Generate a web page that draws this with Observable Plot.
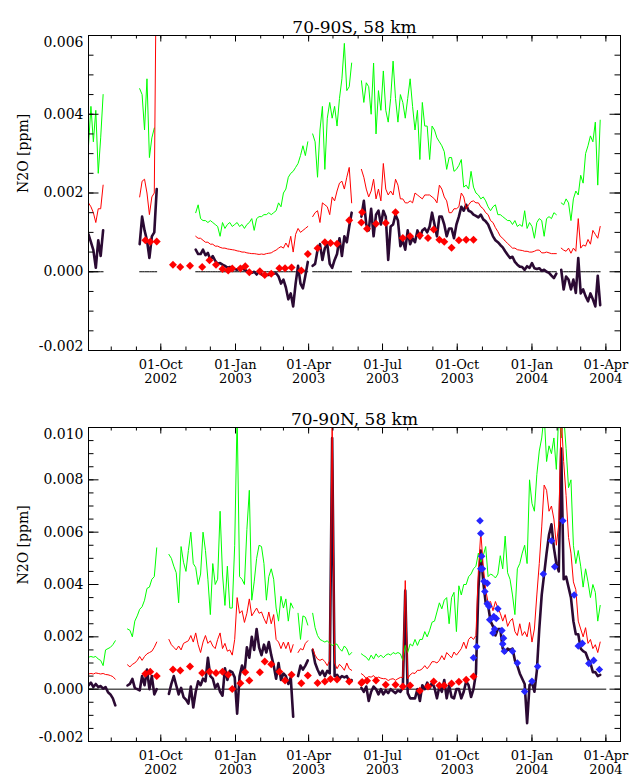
<!DOCTYPE html>
<html><head><meta charset="utf-8">
<script src="https://cdn.jsdelivr.net/npm/d3@7"></script>
<script src="https://cdn.jsdelivr.net/npm/@observablehq/plot@0.6"></script>
<style>
body{margin:0;background:#fff;}
#chart svg{display:block;}
</style></head><body><div id="chart"></div>
<script>
// ---- axis data ----
const X_DOMAIN = ["2002-07-04", "2004-04-19"];
const xTickDates = ["2002-10-01","2003-01-01","2003-04-01","2003-07-01","2003-10-01","2004-01-01","2004-04-01"];
const xTickLabels = ["01-Oct\n2002","01-Jan\n2003","01-Apr\n2003","01-Jul\n2003","01-Oct\n2003","01-Jan\n2004","01-Apr\n2004"];
const yTicksTop = [-0.002, 0, 0.002, 0.004, 0.006];
const yLabelsTop = ["-0.002","0.000","0.002","0.004","0.006"];
const yTicksBot = [-0.002, 0, 0.002, 0.004, 0.006, 0.008, 0.010];
const yLabelsBot = ["-0.002","0.000","0.002","0.004","0.006","0.008","0.010"];

// ---- daily series sampled every 3 days, values in ppb (1e-3 ppm); one sub-array per data segment ----
const STEP_DAYS = 3;
const topStarts = ["2002-07-04","2002-09-05","2002-11-13","2003-04-06","2003-06-05","2004-02-06"];
const topGreen = [
 [3.2,4.2,3.3,4.1,2.5,3.4,4.5],
 [4.65,4.5,3.6,4.9,2.9,3.4,3.65,null],
 [1.5,1.7,1.35,1.3,1.3,1.25,1.3,1.25,1.2,1.15,0.9,1.25,1.1,1.2,1.25,1.15,1.2,1.25,1.15,1.2,1.1,1.2,1.25,1.35,1.05,1.35,1.4,1.4,1.45,1.45,1.5,1.45,1.5,1.55,1.75,1.65,2.0,2.1,2.4,2.5,2.55,2.65,2.75,2.95,3.2,2.95,3.3],
 [3.5,3.3,2.4,3.6,4.2,2.6,3.9,4.3,3.9,4.2,3.7,4.4,4.9,5.8,4.6,4.7,5.3],
 [4.85,4.3,4.8,4.7,4.0,5.3,3.5,4.6,4.1,5.1,4.1,3.8,4.4,5.35,4.4,3.8,4.5,4.3,3.9,4.4,4.9,4.2,3.6,4.1,2.85,4.3,3.7,3.7,2.85,3.7,3.6,3.4,3.3,3.2,3.05,2.6,2.9,
  2.9,2.55,2.6,2.7,2.85,2.15,2.2,2.1,2.55,2.15,2.0,1.95,1.85,1.9,1.8,1.65,1.55,1.65,1.7,1.45,1.45,1.4,1.35,1.3,1.3,1.2,1.3,1.15,1.2,1.15,1.55,1.1,1.25,1.15,0.85,1.25,1.35,1.3,0.9,1.35,1.4,1.35,1.5,1.45],
 [1.75,1.7,1.85,1.75,1.3,1.85,2.05,1.95,2.45,2.25,3.0,3.2,3.45,3.3,3.8,2.2,3.85]
];
const topRed = [
 [1.75,1.65,1.5,1.25,1.6,1.6,2.2],
 [1.9,2.3,2.35,2.0,1.45,1.9,2.0,9.0],
 [0.9,0.85,0.85,0.8,0.75,0.75,0.7,0.7,0.65,0.65,0.62,0.6,0.6,0.58,0.57,0.56,0.55,0.53,0.52,0.5,0.5,0.48,0.47,0.46,0.46,0.45,0.44,0.45,0.44,0.46,0.47,
  0.48,0.52,0.55,0.6,0.64,0.6,0.73,0.62,0.9,0.5,0.95,1.1,1.0,1.05,1.1,1.15],
 [1.4,1.5,1.55,1.25,1.75,1.7,1.65,1.45,1.9,1.8,2.05,2.25,2.3,2.1,2.4,2.65,1.75],
 [2.6,2.4,2.1,1.9,2.05,2.35,1.85,2.1,1.8,2.75,2.1,1.95,2.05,1.95,2.35,2.2,1.85,1.85,1.75,1.75,1.8,1.75,2.0,1.95,1.9,1.85,1.95,1.95,1.95,1.9,1.85,1.75,2.2,2.1,1.9,1.8,1.5,
  1.5,1.6,1.6,1.65,2.0,1.9,1.6,1.7,1.78,1.8,1.75,1.75,1.65,1.6,1.5,1.45,1.3,1.25,1.12,1.02,0.9,0.85,0.78,0.72,0.66,0.6,0.6,0.56,0.55,0.54,0.52,0.52,0.5,0.5,0.52,0.55,0.55,0.48,0.48,0.5,0.48,0.46,0.46,0.46],
 [0.6,0.55,0.52,0.6,0.47,0.6,0.52,1.35,0.6,0.68,0.65,0.82,0.7,1.05,0.95,0.85,1.15]
];
const topDark = [
 [0.95,0.75,0.55,0.1,0.8,0.4,1.05],
 [0.7,1.4,1.05,0.8,0.35,0.9,1.0,2.1],
 [0.56,0.45,0.45,0.56,0.42,0.48,0.3,0.4,0.28,0.2,0.22,0.18,0.15,0.1,0.12,0.1,0.07,0.05,0.1,0.12,0.05,0.02,0.0,-0.03,0.0,-0.07,0.0,-0.07,-0.1,
  -0.08,-0.08,-0.06,-0.05,-0.04,-0.12,-0.3,-0.2,-0.4,-0.7,-0.55,-0.88,-0.3,0.15,-0.3,-0.42,-0.1,0.25],
 [0.15,0.2,0.55,0.7,0.3,0.6,0.7,0.2,0.1,0.3,0.45,0.85,0.4,0.9,0.75,1.15,1.5],
 [1.4,1.8,1.2,1.05,1.6,0.9,1.45,1.55,1.2,1.55,1.4,0.3,1.15,1.2,1.45,1.3,0.65,0.8,0.56,1.05,0.7,0.85,0.75,1.05,0.85,1.05,1.1,1.0,1.15,1.5,1.2,0.9,1.4,1.4,1.2,0.9,1.1,
  1.1,0.85,1.2,1.4,1.65,1.55,1.7,1.55,1.52,1.45,1.42,1.38,1.45,1.33,1.28,1.2,1.05,0.9,0.8,0.75,0.68,0.62,0.52,0.43,0.35,0.38,0.25,0.18,0.13,0.12,0.05,0.14,0.1,0.22,0.09,0.07,0.09,0.02,0.05,0.0,-0.03,-0.1,-0.16,-0.05],
 [0.05,-0.45,-0.12,-0.2,-0.45,-0.2,-0.54,0.35,-0.55,-0.45,-0.62,-0.75,-0.55,-0.7,-0.88,-0.1,-0.85]
];

const botStarts = ["2002-07-04","2002-08-21","2002-10-11","2003-03-19","2003-04-06","2003-06-05"];
const botGreen = [
 [1.22,1.25,1.22,1.25,1.15,1.1,0.9,1.5,1.55,1.6,1.7,1.85],
 [2.3,2.25,2.0,2.6,2.8,3.05,3.15,3.4,3.85,3.9,4.2,4.3,5.4],
 [5.15,5.0,4.7,4.45,3.3,5.45,4.85,4.5,5.3,6.0,4.8,4.65,4.0,4.4,6.0,5.3,4.2,2.85,4.8,4.0,4.2,6.8,4.4,3.2,4.7,3.1,3.1,5.5,10.5,4.3,4.2,4.0,6.1,7.6,3.4,4.1,5.0,5.5,5.45,4.8,3.4,4.3,
  4.6,4.2,3.1,2.6,3.55,3.1,3.45,2.6,3.3,3.1],
 [2.9,1.9,2.8,2.75,2.45],
 [2.9,2.35,2.05,1.9,1.85,1.8,1.85,1.75,1.67,1.72,1.72,1.55,1.45,1.65,1.54,1.3,1.4],
 [1.35,1.28,1.22,1.1,1.3,1.15,1.35,1.22,1.3,1.2,1.3,1.35,1.3,1.4,1.35,1.4,1.35,1.1,1.67,1.4,1.73,1.65,1.9,1.67,1.9,1.9,2.2,2.0,2.25,2.56,2.6,2.95,3.3,3.07,3.4,3.5,2.5,
  3.5,3.7,2.2,3.95,3.6,4.0,4.0,4.3,4.4,4.6,4.7,5.2,4.85,5.1,5.45,4.3,4.4,4.35,4.25,4.4,5.1,4.6,5.85,4.45,4.2,3.6,2.85,4.6,4.8,5.2,
  5.5,4.8,8.0,7.1,6.8,8.2,9.1,9.6,10.5,8.7,9.3,9.0,9.6,8.4,10.5,9.6,10.5,9.2,7.7,8.0,5.5,4.8,5.3,4.7,3.9,4.6,4.1,3.5,4.0,3.7,2.6,3.2]
];
const botRed = [
 [0.58,0.6,0.58,0.62,0.6,0.58,0.6,0.56,0.55,0.52,0.48,0.38],
 [0.93,0.85,0.95,1.0,1.1,1.25,1.1,1.25,1.35,1.4,1.45,1.6,1.8],
 [1.9,1.7,1.6,1.5,1.65,1.5,1.75,1.8,1.85,2.05,1.8,2.15,1.7,1.4,1.8,2.05,1.75,1.85,1.65,1.55,1.9,2.15,1.55,1.75,1.45,1.5,1.3,1.9,3.5,2.9,3.0,2.55,2.9,3.45,2.8,2.95,3.1,2.9,2.95,2.7,2.5,2.95,
  2.5,2.85,1.9,1.8,1.55,1.8,1.55,1.8,1.4,1.7],
 [1.4,1.55,1.5,1.75,1.85],
 [1.55,1.3,1.15,1.1,1.15,1.05,0.9,1.1,10.5,1.0,0.78,0.95,0.85,0.72,1.0,0.78,0.72],
 [0.59,0.52,0.4,0.48,0.46,0.52,0.4,0.46,0.42,0.4,0.4,0.33,0.38,0.4,0.34,0.4,0.45,0.45,4.15,0.4,0.55,0.62,0.6,0.72,0.72,0.78,0.9,0.78,0.9,1.05,1.05,1.0,1.1,1.28,1.12,1.4,1.3,
  1.2,1.42,1.3,1.42,1.55,1.8,1.55,1.9,2.0,1.9,2.05,4.5,6.0,4.7,3.8,3.3,3.35,3.0,3.35,3.1,2.9,2.6,2.85,2.4,2.6,2.7,2.2,2.05,2.5,2.05,
  2.2,2.0,2.55,1.8,2.3,3.6,4.8,6.2,7.8,7.6,6.8,7.0,6.5,5.5,6.3,10.5,8.7,7.4,5.8,5.2,4.1,3.8,2.6,2.3,2.0,2.35,1.75,1.9,1.55,1.7,1.4,1.8]
];
const botDark = [
 [0.15,0.25,0.08,0.2,0.08,0.12,0.02,0.08,-0.12,-0.2,-0.35,-0.62],
 [0.14,0.2,0.39,0.05,0.0,-0.05,0.5,0.15,0.75,0.0,0.5,-0.2,0.0],
 [-0.18,0.2,0.5,0.15,-0.2,0.05,-0.3,-0.4,-0.55,0.1,-0.7,-0.1,0.3,0.15,0.4,0.3,1.2,0.5,0.4,0.05,0.2,-0.1,-0.25,0.8,0.35,0.7,0.65,0.45,-0.94,0.5,0.9,0.6,1.6,1.2,2.0,1.5,2.3,1.6,1.3,1.7,1.4,1.8,
  1.3,0.9,0.4,1.0,0.35,0.6,0.5,0.2,0.45,-1.05],
 [0.5,0.9,0.75,0.9,1.1],
 [1.5,1.0,0.75,0.55,0.7,0.5,0.7,0.6,9.6,0.5,0.55,0.4,0.5,0.45,0.5,0.3,0.35],
 [0.05,-0.1,0.1,-0.45,-0.1,0.1,0.0,-0.2,0.0,-0.2,-0.05,-0.15,0.0,-0.08,-0.15,-0.05,-0.1,0.05,3.77,-0.15,-0.35,-0.35,-0.35,0.0,-0.45,0.15,0.0,0.25,0.05,0.25,0.05,-0.35,0.1,-0.1,0.35,-0.35,0.15,
  -0.3,-0.35,0.0,0.0,-0.35,-0.1,0.3,0.15,-0.3,0.0,0.6,3.8,5.3,4.1,3.3,3.2,2.6,2.4,2.05,2.3,2.3,1.55,1.4,1.55,1.5,1.55,1.1,0.9,0.6,0.4,
  0.2,-1.3,0.15,0.25,-0.1,0.7,2.3,3.6,4.4,5.2,5.9,6.3,5.4,4.8,4.5,9.2,4.2,4.3,3.9,3.5,2.6,2.1,2.1,1.55,1.45,1.4,1.15,1.0,0.65,0.65,0.5,0.55]
];

// ---- diamond markers (ppb) ----
const redDiamondDates = ["2002-09-12","2002-09-18","2002-09-26","2002-10-16","2002-10-25","2002-11-06","2002-11-21","2002-11-30","2002-12-08","2002-12-16","2002-12-23","2002-12-28","2003-01-07","2003-01-13","2003-01-18","2003-01-31","2003-02-06","2003-02-14","2003-02-24","2003-03-03","2003-03-11","2003-03-23","2003-03-31","2003-04-12","2003-04-21","2003-04-28","2003-05-06","2003-05-21","2003-06-05","2003-06-06","2003-06-12","2003-06-23","2003-07-05","2003-07-17","2003-07-26","2003-08-04","2003-08-16","2003-08-26","2003-09-02","2003-09-09","2003-09-15","2003-09-24","2003-10-03","2003-10-12","2003-10-21"];
const topRedDiamonds = [0.8,0.76,0.77,0.18,0.12,0.15,0.12,0.29,0.18,0.07,0.03,0.08,0.08,0.14,-0.01,0.01,-0.08,-0.05,0.09,0.09,0.11,0.03,0.45,0.6,0.75,0.73,0.71,1.31,1.25,1.51,1.09,1.22,1.24,1.51,0.86,0.9,0.92,0.86,1.07,0.81,0.76,0.61,0.8,0.81,0.81];
const botRedDiamonds = [0.59,0.67,0.5,0.75,0.71,0.87,0.62,0.67,0.62,0.67,0.55,0.01,0.23,0.65,0.33,0.65,1.06,0.95,0.67,0.33,0.55,0.23,0.52,0.24,0.29,0.39,0.37,0.29,0.24,0.27,0.32,0.33,0.17,0.17,0.1,0.14,-0.06,0.1,0.29,0.14,0.14,0.22,0.28,0.36,0.48];
const blueDiamondDates = ["2003-10-21","2003-10-25","2003-10-29","2003-10-30","2003-10-31","2003-10-30","2003-11-01","2003-11-03","2003-11-04","2003-11-07","2003-11-07","2003-11-09","2003-11-10","2003-11-14","2003-11-15","2003-11-16","2003-11-18","2003-11-20","2003-11-25","2003-11-26","2003-11-27","2003-11-28","2003-12-08","2003-12-14","2003-12-23","2004-01-01","2004-01-08","2004-01-15","2004-01-25","2004-01-29","2004-02-08","2004-02-22","2004-02-27","2004-03-03","2004-03-11","2004-03-17","2004-03-24"];
const blueDiamonds = [1.2,1.62,6.44,5.95,5.08,4.6,4.6,4.12,3.73,4.05,3.26,3.17,2.65,2.15,2.78,2.3,2.7,3.07,2.24,1.73,1.95,1.45,1.45,1.0,-0.09,0.3,0.87,4.4,5.67,4.68,6.44,3.6,1.65,1.75,0.98,1.1,0.75];

// ---- helpers ----
const PPB = 1e-3;
const asDate = s => new Date(s + "T00:00:00Z");
function expand(starts, segs) {
  const out = [];
  segs.forEach((vals, k) => {
    const s = asDate(starts[k]);
    vals.forEach((v, j) => out.push({date: d3.utcDay.offset(s, STEP_DAYS * j), v: v == null ? NaN : v * PPB, seg: k}));
  });
  return out;
}
const points = (dates, vals) => dates.map((d, i) => ({date: asDate(d), v: vals[i] * PPB}));

const W = 633, ML = 88, MR = 13;
const FONT = "DejaVu Serif";
const GREEN = "#00ff00", RED = "#ff0000", DARK = "#2b0a33", BLUE = "#2626ff";

function panel(o) {
  const fh = o.height - o.marginTop - o.marginBottom;
  const fw = W - ML - MR;
  const xd = X_DOMAIN.map(asDate);
  const g = expand(o.starts, o.green), r = expand(o.starts, o.red), k = expand(o.starts, o.dark);
  const months = d3.utcMonth.range(d3.utcMonth.ceil(xd[0]), xd[1]);
  const majors = xTickDates.map(asDate);
  const yMinor = d3.range(Math.round((o.yTicks[o.yTicks.length-1] - o.yTicks[0]) / 0.0005) + 1).map(i => o.yTicks[0] + i * 0.0005);
  const n = o.yTicks.length;
  const zeroMark = o.zeroFollowsData
    ? Plot.line(k, {x: "date", y: d => isNaN(d.v) ? NaN : 0, z: "seg", stroke: "#000", strokeWidth: 1})
    : Plot.line([{date: xd[0], v: 0}, {date: majors[majors.length-1], v: 0}], {x: "date", y: "v", stroke: "#000", strokeWidth: 1});
  const marks = [
    zeroMark,
    Plot.line(k, {x: "date", y: "v", z: "seg", stroke: DARK, strokeWidth: 2.6, strokeLinejoin: "round", clip: true}),
    Plot.line(g, {x: "date", y: "v", z: "seg", stroke: GREEN, strokeWidth: 1, clip: true}),
    Plot.line(r, {x: "date", y: "v", z: "seg", stroke: RED, strokeWidth: 1, clip: true}),
    Plot.dot(points(redDiamondDates, o.redD), {x: "date", y: "v", symbol: "diamond2", r: 3.6, fill: RED, stroke: "none"})
  ];
  if (o.blue) marks.push(Plot.dot(points(blueDiamondDates, o.blue), {x: "date", y: "v", symbol: "diamond2", r: 3.4, fill: BLUE, stroke: "none"}));
  marks.push(
    Plot.frame({stroke: "#000", strokeWidth: 1}),
    Plot.tickX(months, {x: d => d, insetTop: fh - 3.5, stroke: "#000"}),
    Plot.tickX(months, {x: d => d, insetBottom: fh - 3.5, stroke: "#000"}),
    Plot.tickX(majors, {x: d => d, insetTop: fh - 6.5, stroke: "#000"}),
    Plot.tickX(majors, {x: d => d, insetBottom: fh - 6.5, stroke: "#000"}),
    Plot.tickY(yMinor, {y: d => d, insetRight: fw - 5.5, stroke: "#000"}),
    Plot.tickY(yMinor, {y: d => d, insetLeft: fw - 5.5, stroke: "#000"}),
    Plot.tickY(o.yTicks, {y: d => d, insetRight: fw - 10.5, stroke: "#000"}),
    Plot.tickY(o.yTicks, {y: d => d, insetLeft: fw - 10.5, stroke: "#000"}),
    Plot.text(majors, {x: d => d, frameAnchor: "bottom", lineAnchor: "top", dy: 8, lineHeight: 1.1, fontSize: 13, text: (d, i) => xTickLabels[i], fill: "#000"}),
    Plot.text(o.yTicks.slice(1, n - 1), {y: d => d, frameAnchor: "left", dx: -5, textAnchor: "end", text: (d, i) => o.yLabels[i + 1], fill: "#000"}),
    Plot.text([o.yTicks[n - 1]], {y: d => d, frameAnchor: "left", dx: -5, dy: 2, textAnchor: "end", lineAnchor: "top", text: () => o.yLabels[n - 1], fill: "#000"}),
    Plot.text([o.yTicks[0]], {y: d => d, frameAnchor: "left", dx: -5, textAnchor: "end", lineAnchor: "bottom", text: () => o.yLabels[0], fill: "#000"}),
    Plot.text(["N2O [ppm]"], {frameAnchor: "left", dx: -65, rotate: -90, text: d => d, fill: "#000"}),
    Plot.text([o.title], {frameAnchor: "top", dy: o.titleDy, text: d => d, fontSize: 17, fill: "#000"})
  );
  return Plot.plot({
    width: W, height: o.height,
    marginLeft: ML, marginRight: MR, marginTop: o.marginTop, marginBottom: o.marginBottom,
    x: {type: "utc", domain: xd, axis: null},
    y: {domain: [o.yTicks[0], o.yTicks[n - 1]], axis: null},
    style: {fontFamily: FONT, fontSize: "14px", background: "#fff", color: "#000", overflow: "visible"},
    marks
  });
}

const chart = document.getElementById("chart");
chart.append(panel({
  title: "70-90S, 58 km", titleDy: -15, height: 390, marginTop: 35, marginBottom: 40,
  yTicks: yTicksTop, yLabels: yLabelsTop, starts: topStarts,
  green: topGreen, red: topRed, dark: topDark, redD: topRedDiamonds, zeroFollowsData: true
}));
chart.append(panel({
  title: "70-90N, 58 km", titleDy: -15, height: 386, marginTop: 37, marginBottom: 35,
  yTicks: yTicksBot, yLabels: yLabelsBot, starts: botStarts,
  green: botGreen, red: botRed, dark: botDark, redD: botRedDiamonds, blue: blueDiamonds, zeroFollowsData: false
}));
</script></body></html>
